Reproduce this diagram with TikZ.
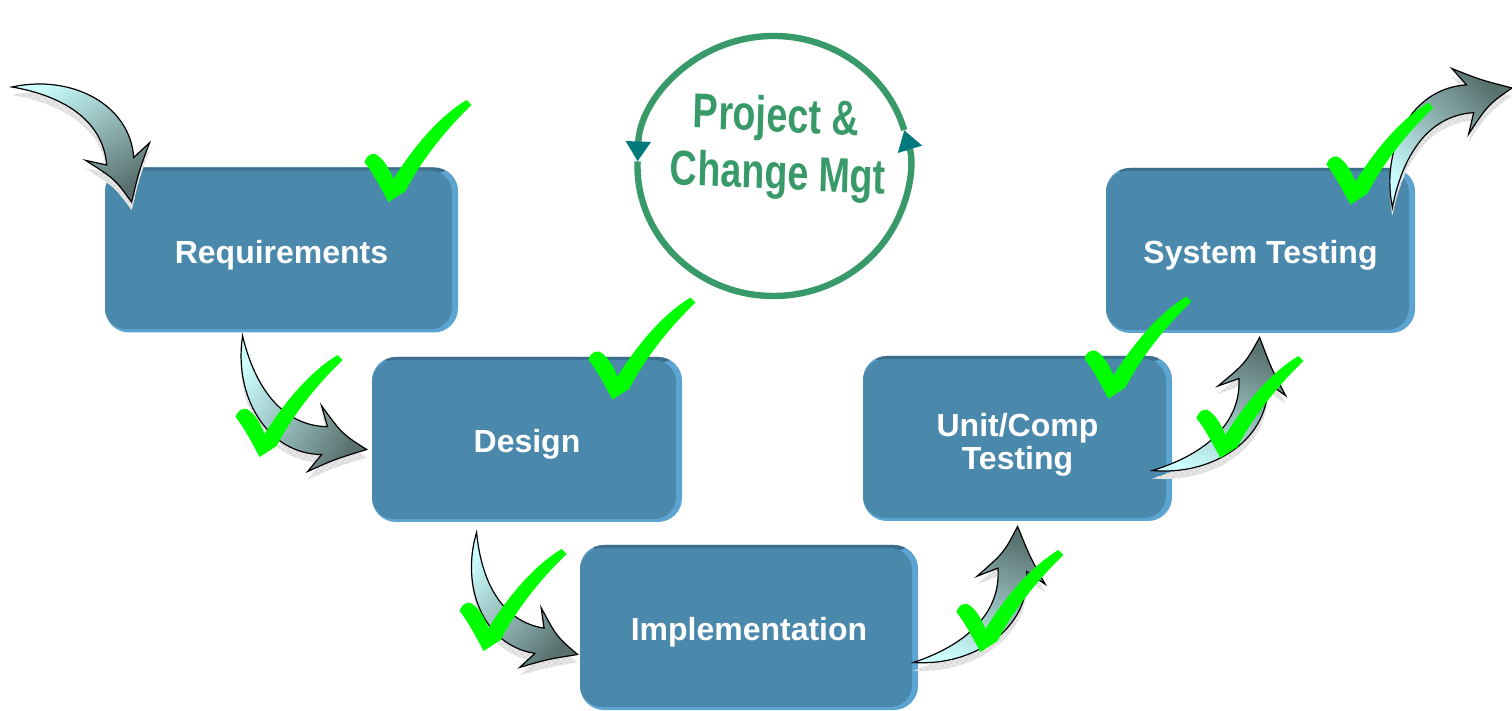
\documentclass[tikz,border=0pt]{standalone}
\usepackage{fontspec}
\setmainfont{Liberation Sans}
\usepackage{tikz}
\usetikzlibrary{
  positioning,
  calc,
  arrows.meta,
  patterns
}
\usepackage{xcolor}

\definecolor{boxfill}{HTML}{4A88AC}
\definecolor{boxedge}{HTML}{5CA5D2}
\definecolor{boxtop}{HTML}{3D6E8E}
\definecolor{pcmgreen}{HTML}{389A68}
\definecolor{pcmteal}{HTML}{007A7C}
\definecolor{tickgreen}{HTML}{00FF00}
\definecolor{arrowlight}{HTML}{CCFFFF}
\definecolor{arrowdark}{HTML}{58706E}

% fat bent arrow, tail at (0,0), tip at (1,0)
\newcommand{\arrowshape}[1]{%
  \path[#1] (0,0) .. controls (0.2,0.3) and (0.58,0.42) .. (0.823,0.203)
    -- (0.830,0.333) .. controls (0.9,0.17) .. (1,0)
    .. controls (0.83,0.03) .. (0.626,-0.011) -- (0.737,0.057)
    .. controls (0.53,0.24) and (0.25,0.17) .. (0,0) -- cycle;}
\newcommand{\bendarrow}[4]{%
  \begin{scope}[x={($(#2)-(#1)$)}, y={($(#1)!1!#3:(#2)-(#1)$)}, shift={(#1)}]
    \arrowshape{arrowshadow}
    \arrowshape{arrowhatch}
    \arrowshape{arrowbody, shading angle=#4}
  \end{scope}}
\newcommand{\greentick}[1]{%
  \fill[tickgreen, shift={#1}] (0,0) .. controls (-8,-15) and (-16,-30) .. (-24,-40)
    .. controls (-22,-46) and (-18,-49) .. (-13,-48)
    .. controls (-5,-44) and (1,-33) .. (5,-23)
    .. controls (25,-55) and (50,-85) .. (78,-102) -- (83,-97)
    .. controls (55,-70) and (32,-40) .. (17,-11) -- cycle;}

\begin{document}
\begin{tikzpicture}[x=0.5pt,y=-0.5pt,
    stage/.style={rounded corners=12pt, fill=boxedge, minimum width=#1, minimum height=82.5pt,
      text=white, align=center, font=\bfseries\fontsize{16}{16.5}\selectfont,
      execute at begin node={\rule{0pt}{16.5pt}},
      path picture={
        \fill[boxtop] (path picture bounding box.north west) rectangle
          ([yshift=-3pt]path picture bounding box.north east);
        \fill[boxfill, rounded corners=11pt] ([yshift=-1.5pt]path picture bounding box.north west)
          rectangle ([xshift=-3pt,yshift=1.5pt]path picture bounding box.south east);}},
    arrowbody/.style={draw=black, line width=0.6pt, top color=arrowlight, bottom color=arrowdark},
    arrowshadow/.style={fill=black!14, transform canvas={yshift=-4pt}},
    arrowhatch/.style={pattern=crosshatch, pattern color=black!8, transform canvas={yshift=-4pt}},
    mgt/.style={text=pcmgreen, inner sep=0pt, xscale=0.77, rotate=-2,
      font=\bfseries\fontsize{24.5}{28}\selectfont},
    cycleline/.style={draw=pcmgreen, line width=3.2pt,
      -{Triangle[length=10pt, width=12pt, color=pcmteal]}}]
  \useasboundingbox (0,0) rectangle (1512,711);

  \node[stage=176.5pt] (req)  at (281.5,250)  {Requirements};
  \node[stage=155pt]   (des)  at (527,439.5)  {Design};
  \node[stage=169pt]   (imp)  at (749,627.5)  {Implementation};
  \node[stage=154.5pt] (unit) at (1017.5,438.5) {\rule{0pt}{18pt}Unit/Comp\\Testing};
  \node[stage=154.5pt] (sys)  at (1260.5,250.5) {System Testing};

  \node[circle, minimum size=133pt] (pcm) at (773.5,166) {};
  \draw[cycleline] ([shift={(16:68pt and 65pt)}]pcm.center)
    arc[start angle=16, end angle=178, x radius=68pt, y radius=65pt];
  \draw[cycleline] ([shift={(178:68pt and 65pt)}]pcm.center)
    arc[start angle=178, end angle=376, x radius=68pt, y radius=65pt];
  \node[mgt] (mgtone) at (776,119) {Project \&};
  \node[mgt] (mgttwo) at (778,177) {Change Mgt};

  % ends of the bent arrows
  \coordinate (start)  at (12,87);
  \coordinate (finish) at (1512,88);
  \coordinate (reqin)   at ($(req.north west)+(27,35)$);
  \coordinate (reqout)  at ($(req.south west)+(138,3)$);
  \coordinate (desin)   at ($(des.west)+(-5,10)$);
  \coordinate (desout)  at ($(des.south west)+(105,10)$);
  \coordinate (impin)   at ($(imp.west)+(-2,27)$);
  \coordinate (impout)  at ($(imp.east)+(-5,35)$);
  \coordinate (unitin)  at ($(unit.south west)+(155,5)$);
  \coordinate (unitout) at ($(unit.east)+(-20,32)$);
  \coordinate (sysin)   at ($(sys.south west)+(154,4)$);
  \coordinate (sysout)  at ($(sys.north east)+(-23,40)$);
  \bendarrow{start}{reqin}{90}{30}
  \bendarrow{reqout}{desin}{-90}{60}
  \bendarrow{desout}{impin}{-90}{50}
  \bendarrow{impout}{unitin}{-90}{160}
  \bendarrow{unitout}{sysin}{-90}{160}
  \bendarrow{sysout}{finish}{90}{135}

  \greentick{($(req.north east)+(-70,35)$)}
  \greentick{($(des.north east)+(-70,43)$)}
  \greentick{($(des.west)+(-112,17.5)$)}
  \greentick{($(imp.west)+(-96,23.5)$)}
  \greentick{($(imp.east)+(62,24.5)$)}
  \greentick{($(unit.north east)+(-64,43)$)}
  \greentick{($(unit.east)+(48,19.5)$)}
  \greentick{($(sys.north east)+(-65,37)$)}
\end{tikzpicture}
\end{document}
